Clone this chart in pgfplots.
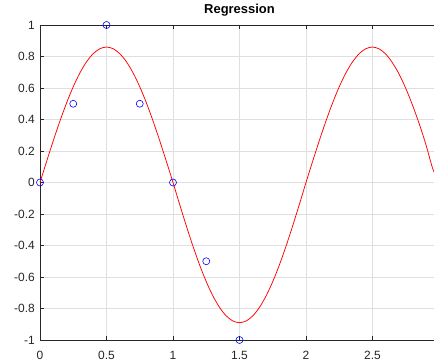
\documentclass[border=0pt]{standalone}
\usepackage{fontspec}
\setmainfont{Liberation Sans}
\usepackage{pgfplots}
\pgfplotsset{compat=1.18}

\definecolor{axisdark}{HTML}{262626}
\definecolor{gridgray}{HTML}{DFDFDF}

\begin{document}
\begin{tikzpicture}
\begin{axis}[
  scale only axis,
  width=399bp, height=315bp,
  xmin=0, xmax=3, ymin=-1, ymax=1,
  xtick={0,0.5,1,1.5,2,2.5},
  ytick={-1,-0.8,-0.6,-0.4,-0.2,0,0.2,0.4,0.6,0.8,1},
  yticklabels={-1,-0.8,-0.6,-0.4,-0.2,0,0.2,0.4,0.6,0.8,1},
  xticklabels={0,0.5,1,1.5,2,2.5},
  grid=major,
  major grid style={gridgray, line width=0.6bp},
  axis line style={axisdark, line width=0.75bp},
  tick style={axisdark, line width=0.75bp},
  tick align=inside,
  major tick length=4bp,
  xtick pos=both, ytick pos=left,
  ticklabel style={font=\fontsize{12}{14}\selectfont, text=axisdark, inner sep=0pt},
  yticklabel style={anchor=east, xshift=-5bp},
  xticklabel style={anchor=north, yshift=-11bp},
  title={Regression},
  title style={font=\bfseries\fontsize{13}{15}\selectfont, anchor=base, inner sep=0pt, yshift=6bp},
  clip=false,
]
% fitted curve
\addplot[red, line width=0.75bp, smooth] coordinates {
 (0.00,0) (0.05,0.1345) (0.10,0.2657) (0.15,0.3904) (0.20,0.5055)
 (0.25,0.6081) (0.30,0.6957) (0.35,0.7663) (0.40,0.8179) (0.45,0.8494)
 (0.50,0.8600) (0.55,0.8494) (0.60,0.8179) (0.65,0.7663) (0.70,0.6957)
 (0.75,0.6081) (0.80,0.5055) (0.85,0.3904) (0.90,0.2657) (0.95,0.1345)
 (1.00,0) (1.05,-0.1392) (1.10,-0.2750) (1.15,-0.4041) (1.20,-0.5231)
 (1.25,-0.6293) (1.30,-0.7200) (1.35,-0.7930) (1.40,-0.8465) (1.45,-0.8791)
 (1.50,-0.8900) (1.55,-0.8791) (1.60,-0.8465) (1.65,-0.7930) (1.70,-0.7200)
 (1.75,-0.6293) (1.80,-0.5231) (1.85,-0.4041) (1.90,-0.2750) (1.95,-0.1392)
 (2.00,0) (2.05,0.1345) (2.10,0.2657) (2.15,0.3904) (2.20,0.5055)
 (2.25,0.6081) (2.30,0.6957) (2.35,0.7663) (2.40,0.8179) (2.45,0.8494)
 (2.50,0.8600) (2.55,0.8480) (2.60,0.8150) (2.65,0.7600) (2.70,0.6880)
 (2.75,0.5980) (2.80,0.4930) (2.85,0.3760) (2.90,0.2450) (2.95,0.0950)
 (2.97,0.0550)
};
% samples
\addplot[only marks, mark=o, blue, mark size=3.5bp, mark options={line width=0.6bp}] coordinates {
 (0,0) (0.25,0.5) (0.5,1) (0.75,0.5) (1,0) (1.25,-0.5) (1.5,-1)
};
\coordinate (o) at (rel axis cs:0,0);
\end{axis}
\pgfresetboundingbox
\useasboundingbox ([xshift=-40bp,yshift=-23bp]o) rectangle ([xshift=394bp,yshift=340bp]o);
\end{tikzpicture}
\end{document}
